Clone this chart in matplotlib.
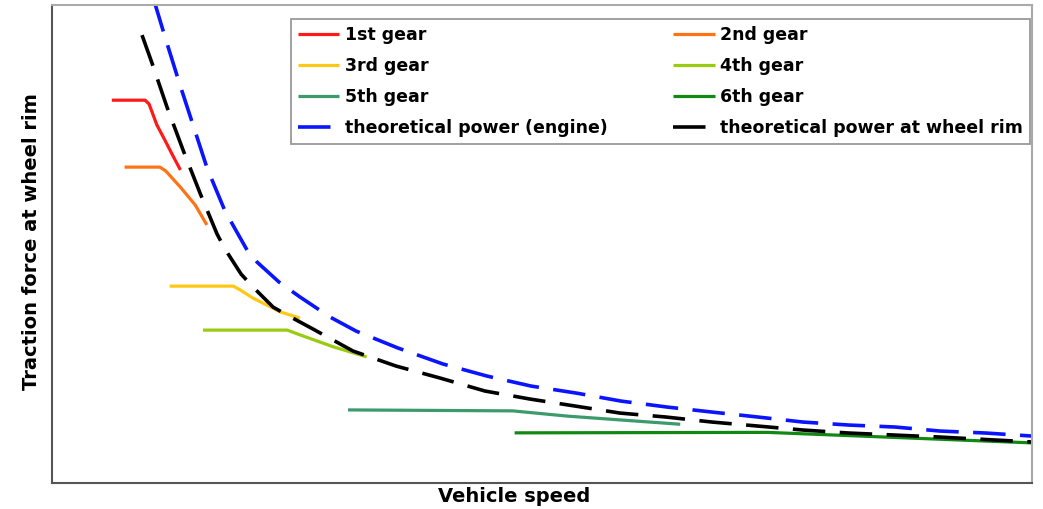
import matplotlib.pyplot as plt

# traction diagram, values (arbitrary units 0..100)
power_v = [10.4, 11.53, 12.96, 14.39, 15.82, 17.65, 19.90, 20.92, 23.16, 25.31, 28.37, 31.02,
           35.31, 39.90, 44.39, 48.88, 53.47, 58.06, 62.76, 67.35, 72.04, 76.63, 81.33,
           86.02, 90.61, 95.31, 100]
power_f = [101, 93.31, 83.89, 74.90, 65.90, 56.90, 48.74, 46.23, 42.05, 38.91, 34.73, 31.80,
           28.24, 24.90, 22.38, 20.29, 18.83, 17.15, 15.90, 14.85, 13.81, 12.76, 12.13,
           11.72, 10.88, 10.46, 9.83]

rim_v = [9.18, 10.20, 11.73, 13.37, 15.10, 16.84, 17.65, 19.29, 20.41, 22.55, 23.98, 26.63,
         30.71, 35.10, 39.59, 44.18, 48.78, 53.37, 57.96, 62.65, 67.35, 72.04, 76.63, 81.33,
         90.61, 100.1]
rim_f = [93.72, 87.87, 78.66, 69.67, 60.67, 52.09, 48.95, 43.72, 41.21, 36.82, 35.15, 32.22,
         27.62, 24.48, 21.97, 19.25, 17.57, 16.11, 14.64, 13.81, 12.76, 11.92, 11.09, 10.46,
         9.62, 8.58]

gear1_v = [6.1, 9.5, 9.9, 10.7, 11.5, 12.3, 13.1]
gear1_f = [80.1, 80.1, 79.3, 74.9, 71.8, 68.6, 65.5]
gear2_v = [7.4, 11.0, 11.6, 13.1, 14.6, 15.8]
gear2_f = [66.1, 66.1, 65.3, 61.9, 58.2, 54.0]
gear3_v = [12.0, 18.5, 19.2, 20.5, 23.3, 25.3]
gear3_f = [41.2, 41.2, 40.4, 38.7, 35.8, 34.5]
gear4_v = [15.4, 24.0, 25.3, 28.7, 32.1]
gear4_f = [32.0, 32.0, 31.0, 28.5, 26.4]
gear5_v = [30.2, 47.0, 52.6, 64.1]
gear5_f = [15.3, 15.1, 14.0, 12.3]
gear6_v = [47.2, 73.0, 100]
gear6_f = [10.5, 10.6, 8.4]

gear_labels = ['1st gear', '2nd gear', '3rd gear', '4th gear', '5th gear', '6th gear']
gear_colors = ['#ff1a1a', '#ff7316', '#ffc814', '#99cc11', '#3c9a6c', '#118811']

fig = plt.figure(figsize=(10.43, 5.09), dpi=100)
ax = fig.add_axes([0.0499, 0.051, 0.9396, 0.939])

gears = [(gear1_v, gear1_f), (gear2_v, gear2_f), (gear3_v, gear3_f),
         (gear4_v, gear4_f), (gear5_v, gear5_f), (gear6_v, gear6_f)]
handles = []
for (v, f), lab, col in zip(gears, gear_labels, gear_colors):
    h, = ax.plot(v, f, color=col, lw=2.3, label=lab, solid_capstyle='butt')
    handles.append(h)

hp, = ax.plot(power_v, power_f, color='#0a14ff', lw=2.6, dashes=(9, 4),
              label='theoretical power (engine)')
hr, = ax.plot(rim_v, rim_f, color='black', lw=2.6, dashes=(9, 4),
              label='theoretical power at wheel rim')
handles += [hp, hr]

ax.set_xlim(0, 100)
ax.set_ylim(0, 100)
ax.set_xticks([])
ax.set_yticks([])
for s in ['left', 'bottom']:
    ax.spines[s].set_color('#555555')
    ax.spines[s].set_linewidth(1.5)
for s in ['top', 'right']:
    ax.spines[s].set_color('#aaaaaa')
    ax.spines[s].set_linewidth(1.5)

ax.set_xlabel('Vehicle speed', fontsize=14, fontweight='bold', labelpad=3, x=0.471)
ax.set_ylabel('Traction force at wheel rim', fontsize=14, fontweight='bold', labelpad=8, y=0.505)

# row-major order for a 2-column legend
order = [0, 2, 4, 6, 1, 3, 5, 7]
leg = ax.legend([handles[i] for i in order], [handles[i].get_label() for i in order],
                ncol=2, loc='upper right', bbox_to_anchor=(0.998, 0.971), borderaxespad=0,
                fancybox=False, framealpha=1, edgecolor='#999999',
                prop={'weight': 'bold', 'size': 12.5}, handlelength=2.4, handletextpad=0.3,
                labelspacing=0.75, columnspacing=3.8, borderpad=0.4)
leg.get_frame().set_linewidth(1.3)

fig.savefig('out.png', dpi=100)
